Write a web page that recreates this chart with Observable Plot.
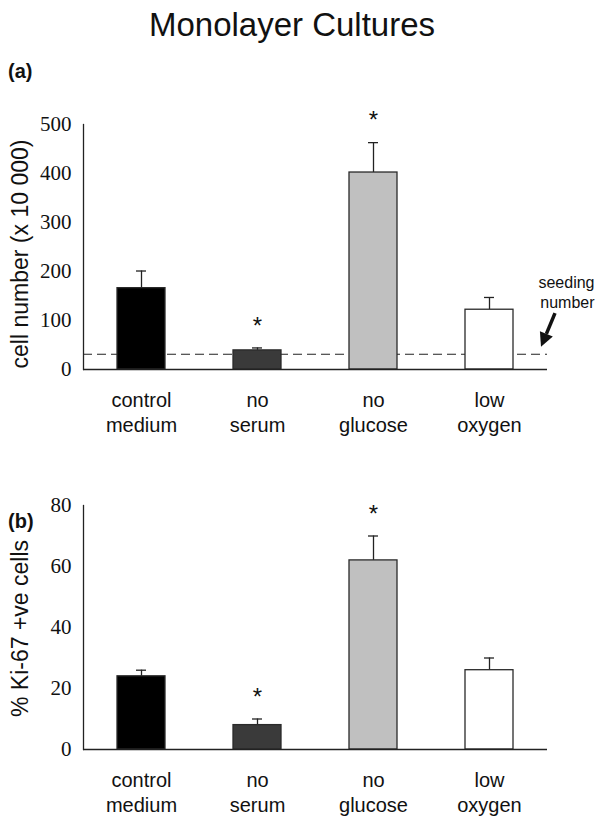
<!DOCTYPE html>
<html>
<head>
<meta charset="utf-8">
<script src="https://cdn.jsdelivr.net/npm/d3@7"></script>
<script src="https://cdn.jsdelivr.net/npm/@observablehq/plot@0.6"></script>
<style>
  html, body { margin: 0; padding: 0; background: #fff; }
  #root { position: relative; width: 600px; height: 829px; font-family: "Liberation Sans", Arial, sans-serif; color: #111; }
  .title { position: absolute; left: 0; width: 584px; top: 5px; text-align: center; font-size: 33px; line-height: 40px; z-index: 2; }
  .panel { position: absolute; left: 8px; font-weight: bold; font-size: 20px; line-height: 22px; z-index: 2; }
  .chart { position: absolute; left: 0; }
</style>
</head>
<body>
<div id="root">
  <div class="chart" id="chartA" style="top:80px"></div>
  <div class="chart" id="chartB" style="top:460px"></div>
  <div class="title">Monolayer Cultures</div>
  <div class="panel" style="top:60px">(a)</div>
  <div class="panel" style="top:510px">(b)</div>
</div>
<script>
// ---- data ----
const categories = ["control medium", "no serum", "no glucose", "low oxygen"];
const barColors = ["#000000", "#3a3a3a", "#c0c0c0", "#ffffff"];
const significant = [false, true, true, false];

// panel (a): cell number (x 10 000)
const cellNumber = [166, 39, 402, 122];
const cellNumberErr = [35, 5, 61, 25];
const seedingNumber = 31;
const yTicksA = [0, 100, 200, 300, 400, 500];

// panel (b): % Ki-67 +ve cells
const ki67 = [24, 8, 62, 26];
const ki67Err = [2, 2, 8, 4];
const yTicksB = [0, 20, 40, 60, 80];

function makeRows(values, errs) {
  return categories.map((c, i) => ({
    cat: c, value: values[i], top: values[i] + errs[i], color: barColors[i], sig: significant[i]
  }));
}

function panel({rows, yMax, yTicks, yLabel, labelDy = 0, height, marginTop, marginBottom, extra = []}) {
  return Plot.plot({
    width: 600,
    height,
    marginLeft: 83,
    marginRight: 53,
    marginTop,
    marginBottom,
    style: {fontFamily: "Liberation Sans, Arial, sans-serif", fontSize: "18px", background: "white", overflow: "visible", color: "#111"},
    x: {domain: categories, paddingInner: 0.586, paddingOuter: 0.293, label: null},
    y: {domain: [0, yMax], label: null},
    marks: [
      ...extra,
      Plot.ruleX(rows, {x: "cat", y1: "value", y2: "top", stroke: "#222", strokeWidth: 1.3}),
      Plot.tickY(rows, {x: "cat", y: "top", stroke: "#222", strokeWidth: 1.3, insetLeft: 19, insetRight: 19}),
      Plot.barY(rows, {x: "cat", y: "value", fill: "color", stroke: "#2a2a2a", strokeWidth: 1.3}),
      Plot.text(rows.filter(d => d.sig), {x: "cat", y: "top", text: () => "*", dy: -22, fontSize: 24, fill: "#111"}),
      Plot.ruleY([0], {stroke: "#222", strokeWidth: 1.3}),
      Plot.frame({anchor: "left", stroke: "#222", strokeWidth: 1.3}),
      Plot.axisY({ticks: yTicks, tickSize: 0, tickPadding: 12, fontFamily: "Liberation Serif, Times New Roman, serif", fontSize: 21, label: null, tickFormat: d => String(d)}),
      Plot.axisX({tickSize: 0, tickPadding: 19, fontSize: 20, lineHeight: 1.27, label: null, tickFormat: d => d.replace(" ", "\n")}),
      Plot.text([yLabel], {frameAnchor: "left", textAnchor: "middle", rotate: -90, dx: -63, dy: labelDy, fontSize: 23, fill: "#111"})
    ]
  });
}

const rowsA = makeRows(cellNumber, cellNumberErr);
const rowsB = makeRows(ki67, ki67Err);

// seeding-number annotation (arrow drawn relative to the y scale)
const seedingArrow = (index, scales, values, dims) => {
  const g = d3.create("svg:g");
  const xr = dims.width - dims.marginRight;
  const yTip = scales.y(seedingNumber) - 7;
  const yTail = scales.y(114);
  const x1 = xr + 8, x2 = xr - 6;
  const ang = Math.atan2(yTip - yTail, x2 - x1);
  const hl = 14, hw = 7;
  const bx = x2 - hl * Math.cos(ang), by = yTip - hl * Math.sin(ang);
  g.append("line").attr("x1", x1).attr("y1", yTail).attr("x2", bx).attr("y2", by)
    .attr("stroke", "#111").attr("stroke-width", 3.5);
  g.append("path")
    .attr("d", `M${x2},${yTip}L${bx + hw * Math.sin(ang)},${by - hw * Math.cos(ang)}L${bx - hw * Math.sin(ang)},${by + hw * Math.cos(ang)}Z`)
    .attr("fill", "#111");
  return g.node();
};

const chartA = panel({
  rows: rowsA, yMax: 500, yTicks: yTicksA, yLabel: "cell number (x 10 000)", labelDy: 7,
  height: 360, marginTop: 44, marginBottom: 71,
  extra: [
    Plot.ruleY([seedingNumber], {stroke: "#222", strokeWidth: 1.1, strokeDasharray: "9,5"}),
    Plot.text(["seeding\nnumber"], {frameAnchor: "right", y: seedingNumber, dx: 47, dy: -63, fontSize: 16, lineHeight: 1.25, textAnchor: "end", fill: "#111"}),
    seedingArrow
  ]
});
document.getElementById("chartA").appendChild(chartA);

const chartB = panel({
  rows: rowsB, yMax: 80, yTicks: yTicksB, yLabel: "% Ki-67 +ve cells", labelDy: 1,
  height: 369, marginTop: 45, marginBottom: 80
});
document.getElementById("chartB").appendChild(chartB);
</script>
</body>
</html>
